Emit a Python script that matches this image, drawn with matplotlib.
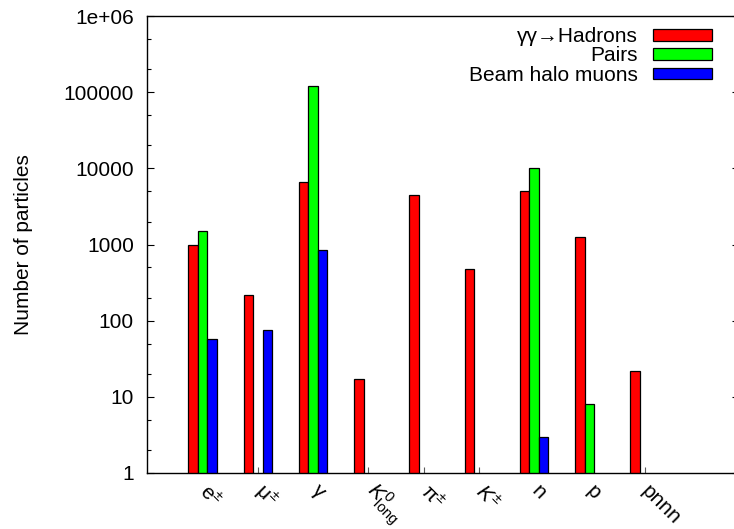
import numpy as np
import matplotlib
matplotlib.use("Agg")
import matplotlib.pyplot as plt
from matplotlib.ticker import FixedLocator, FuncFormatter

plt.rcParams["font.family"] = ["Liberation Sans", "DejaVu Sans"]
plt.rcParams["mathtext.fontset"] = "custom"
plt.rcParams["mathtext.rm"] = "Liberation Sans"
plt.rcParams["mathtext.it"] = "Liberation Sans:italic"

FS = 15

species = [r"$\mathrm{e}^{\pm}$", r"$\mathrm{μ}^{\pm}$", r"$\mathrm{γ}$",
           r"$K^{0}_{\mathrm{long}}$", r"$\mathrm{π}^{\pm}$", r"$K^{\pm}$",
           "n", "p", "pnnn"]
hadrons = [1000, 220, 6600, 17, 4500, 480, 5000, 1250, 22]
pairs = [1500, np.nan, 120000, np.nan, np.nan, np.nan, 10000, 8, np.nan]
halo_muons = [57, 75, 850, np.nan, np.nan, np.nan, 3, np.nan, np.nan]

series = [
    ("γγ→Hadrons", hadrons, "#ff0000"),
    ("Pairs", pairs, "#00ff00"),
    ("Beam halo muons", halo_muons, "#0000ff"),
]

fig = plt.figure(figsize=(7.34, 5.29), dpi=100)
ax = fig.add_axes([146.5 / 734, 1 - 473 / 529, (738.5 - 146.5) / 734, (473 - 16) / 529])

x = np.arange(len(species))
width = 0.17
for k, (name, vals, color) in enumerate(series):
    ax.bar(x + (k - 1) * width, vals, width, color=color, edgecolor="black",
           linewidth=0.9, label=name, zorder=2)

ax.set_yscale("log")
ax.set_ylim(1, 1e6)
ax.set_xlim(-1.015, 9.7)

majors = [1, 10, 100, 1000, 1e4, 1e5, 1e6]
minors = [m * d for d in [1, 10, 100, 1000, 1e4, 1e5] for m in (2, 5)]
ax.yaxis.set_major_locator(FixedLocator(majors))
ax.yaxis.set_minor_locator(FixedLocator(minors))
ax.yaxis.set_major_formatter(FuncFormatter(
    lambda v, p: "1e+06" if v >= 1e6 else f"{int(round(v))}"))
ax.yaxis.set_minor_formatter(FuncFormatter(lambda v, p: ""))
ax.tick_params(axis="y", which="major", direction="in", length=5, width=0.8,
               right=True, labelsize=FS, pad=9)
ax.tick_params(axis="y", which="minor", direction="in", length=2.8, width=0.8,
               right=True)

ax.set_xticks(x)
ax.set_xticklabels(species, rotation=-45, ha="left", va="center",
                   rotation_mode="anchor", fontsize=FS)
ax.tick_params(axis="x", direction="in", length=4.3, width=0.8, top=False,
               pad=11, color="0.35")

for s in ax.spines.values():
    s.set_linewidth(1.0)

ax.set_ylabel("Number of particles", fontsize=FS, labelpad=22)

leg = ax.legend(loc="upper right", bbox_to_anchor=(711.7 / 734, 1 - 27 / 529),
                bbox_transform=fig.transFigure, frameon=False, markerfirst=False,
                fontsize=FS, handlelength=2.8, handleheight=0.5,
                handletextpad=0.75, labelspacing=0.02, borderpad=0,
                borderaxespad=0)

fig.savefig("out.png", dpi=100)
